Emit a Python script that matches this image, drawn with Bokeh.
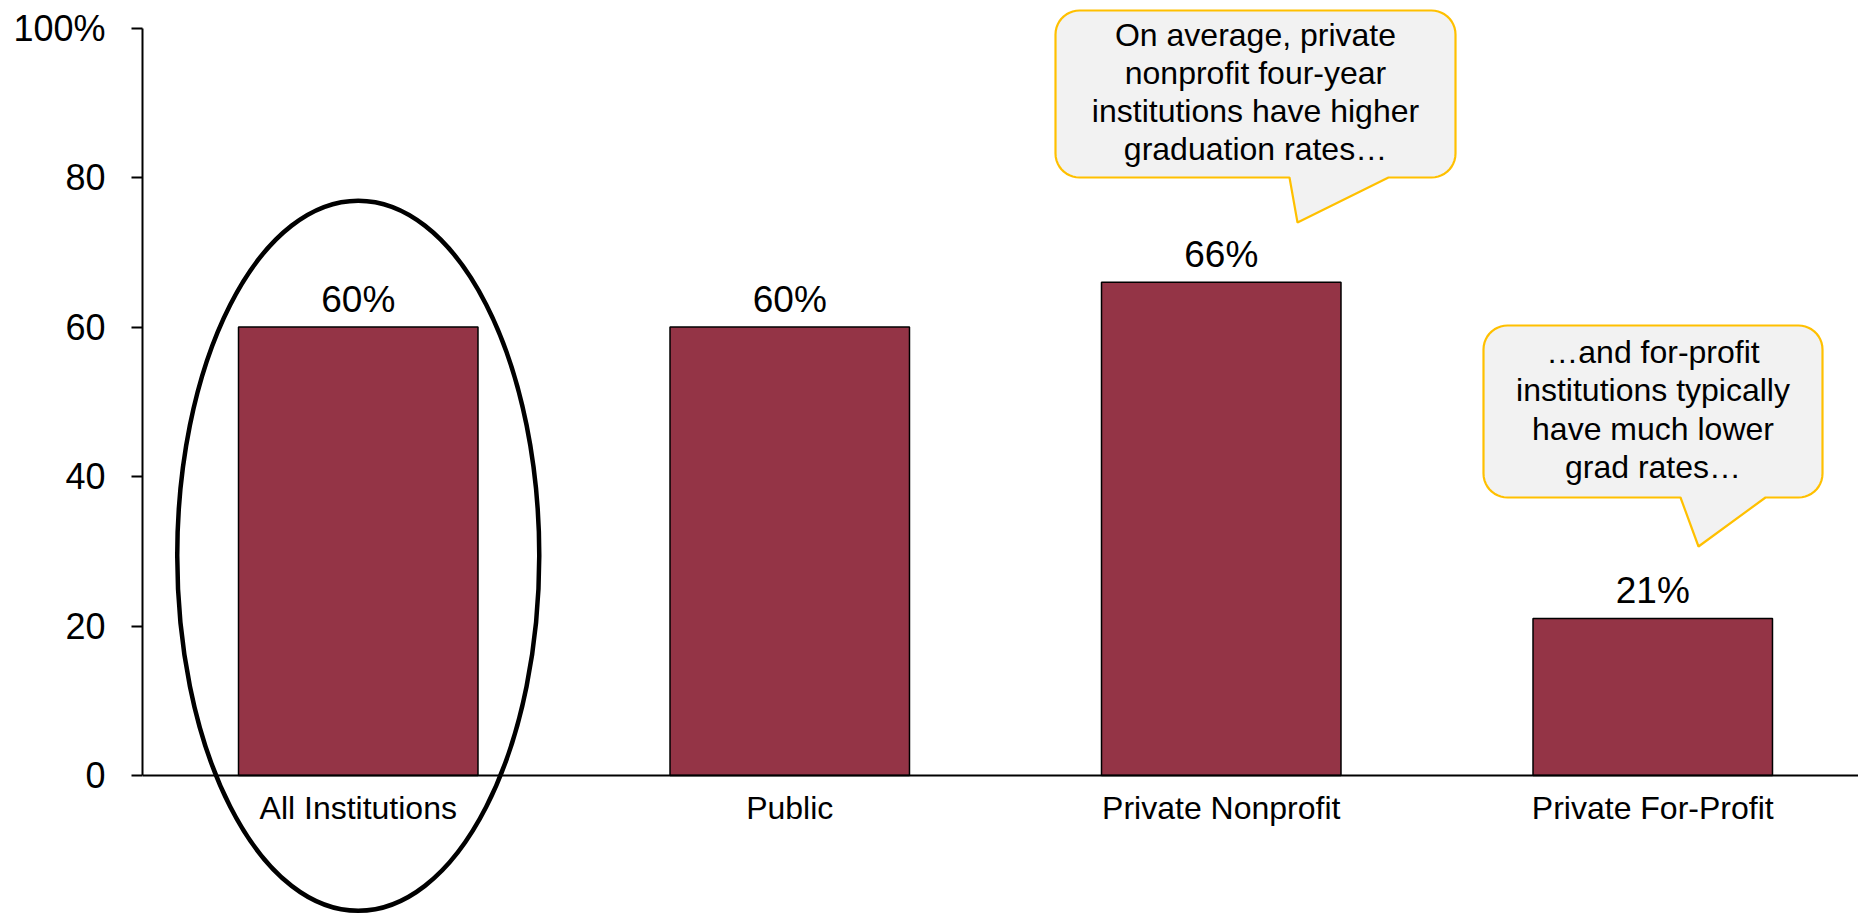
import numpy as np
from bokeh.plotting import figure
from bokeh.models import Range1d, FixedTicker
from bokeh.core.properties import value
from bokeh.embed import file_html
from bokeh.resources import INLINE

# ---------------- data ----------------
categories = ["All Institutions", "Public", "Private Nonprofit", "Private For-Profit"]
grad_rates = [60, 60, 66, 21]
value_labels = ["60%", "60%", "66%", "21%"]
y_ticks = [0, 20, 40, 60, 80, 100]
y_tick_labels = ["0", "20", "40", "60", "80", "100%"]

callout1_lines = ["On average, private", "nonprofit four-year",
                  "institutions have higher", "graduation rates\u2026"]
callout2_lines = ["\u2026and for-profit", "institutions typically",
                  "have much lower", "grad rates\u2026"]

# ---------------- layout ----------------
W, H = 1858, 915
LEFT = 142
PXX = 431.5          # px per category unit
PXY = 7.475          # px per percentage point
ZERO_PX = 775        # pixel row of y = 0
x_end = (W - LEFT) / PXX
y_top = ZERO_PX / PXY
y_bot = -(H - ZERO_PX) / PXY
TXT_SHIFT = 14       # px correction for text baseline placement

FONT = value("Liberation Sans")

p = figure(width=W, height=H, output_backend="svg", toolbar_location=None,
           x_range=Range1d(0, x_end), y_range=Range1d(y_bot, y_top),
           min_border_left=LEFT, min_border_right=0, min_border_top=0,
           min_border_bottom=0, outline_line_color=None,
           background_fill_color="white", border_fill_color="white")
p.grid.visible = False

xs = [i + 0.5 for i in range(len(categories))]

# bars
p.vbar(x=xs, top=grad_rates, bottom=0, width=0.555, fill_color="#943446",
       line_color="black", line_width=1.5)

# value labels
p.text(x=xs, y=[v + (14 + TXT_SHIFT) / PXY for v in grad_rates], text=value_labels,
       text_align="center", text_baseline="alphabetic", text_font=FONT,
       text_font_size="37px", text_color="black")

# ellipse around "All Institutions"
p.ellipse(x=[xs[0]], y=[29.4], width=[0.839], height=[95.0],
          fill_color=None, line_color="black", line_width=4.5)


# callouts
def callout(x0, x1, y0, y1, bl, br, tip, r_px=24, n=12):
    rx, ry = r_px / PXX, r_px / PXY
    px, py = [], []

    def arc(cx, cy, a0, a1):
        for t in np.linspace(np.radians(a0), np.radians(a1), n):
            px.append(cx + rx * np.cos(t))
            py.append(cy + ry * np.sin(t))

    arc(x0 + rx, y1 - ry, 180, 90)
    arc(x1 - rx, y1 - ry, 90, 0)
    arc(x1 - rx, y0 + ry, 0, -90)
    px.extend([br, tip[0], bl])
    py.extend([y0, tip[1], y0])
    arc(x0 + rx, y0 + ry, -90, -180)
    return px, py


def to_x(pxv):
    return (pxv - LEFT) / PXX


def to_y(pyv):
    return (ZERO_PX - pyv) / PXY


c1x, c1y = callout(to_x(1055), to_x(1455), to_y(177), to_y(10),
                   to_x(1289), to_x(1388), (to_x(1297), to_y(222)))
c2x, c2y = callout(to_x(1483), to_x(1822), to_y(497), to_y(325),
                   to_x(1680), to_x(1765), (to_x(1698), to_y(546)))
for cx, cy in ((c1x, c1y), (c2x, c2y)):
    p.patch(cx, cy, fill_color="#F2F2F2", line_color="#FFC000", line_width=2.2)

p.text(x=[to_x(1255)] * 4, y=[to_y(b - TXT_SHIFT) for b in (48, 86, 124, 162)],
       text=callout1_lines, text_align="center", text_baseline="alphabetic",
       text_font=FONT, text_font_size="32px", text_color="black")
p.text(x=[to_x(1652.5)] * 4, y=[to_y(b - TXT_SHIFT) for b in (365, 403, 442, 480)],
       text=callout2_lines, text_align="center", text_baseline="alphabetic",
       text_font=FONT, text_font_size="32px", text_color="black")

# y axis
ya = p.yaxis[0]
ya.ticker = FixedTicker(ticks=y_ticks)
ya.major_label_overrides = {t: l for t, l in zip(y_ticks, y_tick_labels)}
ya.bounds = (0, 100)
ya.axis_line_color = "black"
ya.axis_line_width = 2
ya.major_tick_line_color = "black"
ya.major_tick_line_width = 2
ya.major_tick_out = 11
ya.major_tick_in = 0
ya.minor_tick_line_color = None
ya.major_label_standoff = 26
ya.major_label_text_font = "Liberation Sans"
ya.major_label_text_font_size = "36px"
ya.major_label_text_color = "black"

# x axis at y = 0
xa = p.xaxis[0]
xa.fixed_location = 0
xa.ticker = FixedTicker(ticks=xs)
xa.major_label_overrides = {x: c for x, c in zip(xs, categories)}
xa.axis_line_color = "black"
xa.axis_line_width = 2
xa.major_tick_line_color = None
xa.major_tick_out = 0
xa.major_tick_in = 0
xa.minor_tick_line_color = None
xa.major_label_standoff = 14
xa.major_label_text_font = "Liberation Sans"
xa.major_label_text_font_size = "32px"
xa.major_label_text_color = "black"

open("out.html", "w").write(file_html(p, INLINE))
